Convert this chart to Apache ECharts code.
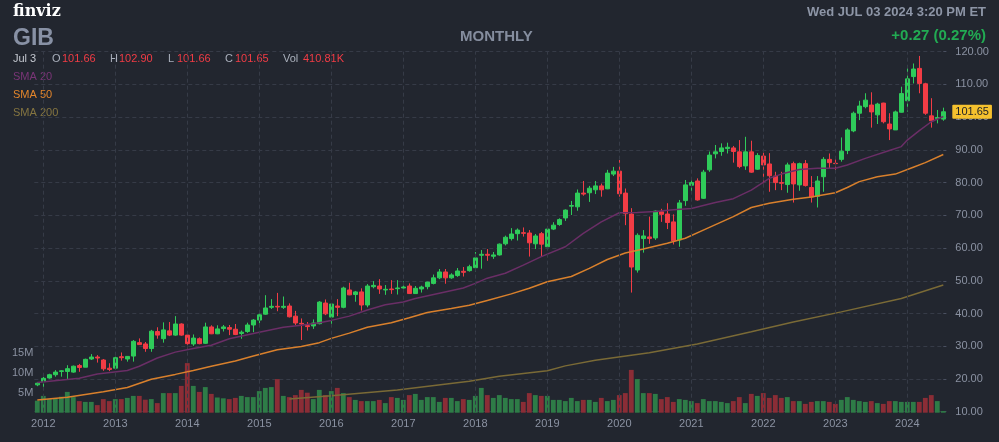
<!DOCTYPE html>
<html><head><meta charset="utf-8">
<script src="https://cdn.jsdelivr.net/npm/echarts@6/dist/echarts.min.js"></script>
<style>html,body{margin:0;padding:0;background:#22262f}#c{width:999px;height:442px}</style>
</head><body><div id="c"></div>
<script>
// ---- data (monthly, Dec 2011 .. Jul 2024) ----
const START_YEAR = 2011, START_MONTH = 12;
const OPEN = [18.2,19.2,20.3,21.3,22.3,22.3,22.1,24.1,23.6,26.1,26.7,25.8,23.3,23.3,26.8,26.1,27.0,31.1,30.7,29.3,34.5,32.3,34.7,33.4,36.8,
33.4,30.7,32.3,30.9,35.9,33.8,35.4,35.7,35.2,33.9,34.5,36.5,38.0,39.8,41.9,42.2,41.9,42.3,39.2,37.0,36.3,36.2,36.9,43.2,
38.9,42.3,41.9,47.2,45.8,46.6,42.6,48.2,48.4,47.2,47.5,47.6,47.8,48.4,46.1,47.5,48.2,49.2,50.9,52.7,50.9,51.6,52.9,53.1,
54.0,57.8,58.1,57.5,57.9,61.3,62.9,64.4,64.7,64.6,61.3,64.4,60.4,65.8,67.2,69.2,72.8,72.6,76.8,76.9,77.8,79.0,78.1,82.6,
83.5,76.8,70.4,53.3,62.9,63.4,63.1,71.1,70.4,68.0,62.5,74.5,79.2,80.5,75.2,83.9,88.8,89.5,90.4,90.6,89.4,85.1,89.4,84.1,
88.1,85.7,82.0,80.0,79.4,85.8,79.3,85.8,78.5,75.8,81.8,87.1,85.9,87.1,89.8,95.8,101.2,103.2,103.7,100.7,104.3,97.9,96.1,101.5,
105.0,112.4,114.9,110.2,100.4,99.6,99.4];
const HIGH = [19.0,20.6,21.6,22.7,22.7,24.2,24.1,24.6,26.2,27.6,27.3,26.1,24.8,26.8,28.1,27.0,31.9,32.4,31.3,35.0,35.8,37.3,37.4,39.2,37.0,
33.7,33.6,32.7,37.2,36.4,36.4,36.5,36.5,36.8,34.8,37.2,38.3,40.1,45.6,44.4,46.3,45.2,43.1,40.8,38.5,37.4,38.2,43.8,44.3,
43.1,44.4,48.2,49.4,46.9,47.7,49.0,49.9,50.5,48.7,50.2,50.2,49.9,49.2,48.4,48.5,49.7,51.9,53.6,53.6,52.3,53.9,54.2,54.9,
58.8,59.4,59.7,58.8,61.4,63.8,66.1,66.0,66.3,65.5,64.3,64.9,65.9,67.9,69.1,71.8,74.4,77.9,80.5,79.0,80.5,79.7,83.9,84.8,
86.9,78.2,72.2,64.5,65.5,69.6,71.5,72.0,73.7,70.3,74.7,80.8,80.8,81.3,83.9,89.5,91.5,92.0,92.2,91.2,93.0,94.0,92.8,89.0,
89.2,89.0,83.3,83.3,86.1,86.4,86.1,86.9,82.0,82.0,87.8,88.9,88.0,93.8,96.6,101.7,105.0,107.3,107.6,104.4,104.4,101.2,102.0,109.3,
115.7,116.4,118.7,110.5,105.8,102.2,102.9];
const LOW = [17.8,17.4,20.1,20.7,20.7,19.9,21.9,22.2,23.6,25.8,25.0,22.5,22.4,22.9,25.6,25.3,25.3,30.4,28.3,28.3,32.3,31.1,33.1,33.2,33.2,
29.3,30.1,30.6,30.7,33.7,33.7,34.5,33.4,33.4,32.3,34.1,34.3,37.0,39.6,41.4,40.7,41.4,38.8,36.5,31.9,34.8,35.3,36.7,39.5,
35.9,39.2,41.6,45.6,43.6,40.9,41.9,47.7,46.0,45.7,46.0,45.8,47.0,46.0,46.0,46.4,47.4,48.9,50.5,49.1,50.6,51.2,51.3,52.8,
52.8,53.7,56.1,56.7,57.7,60.8,62.3,62.3,63.5,57.4,59.7,57.3,59.7,65.5,66.8,68.3,70.1,71.4,76.0,74.1,76.5,75.7,78.0,82.0,
75.7,67.0,46.4,52.5,58.6,61.3,62.5,68.0,65.8,61.1,60.4,72.9,76.9,74.5,75.0,83.3,87.4,88.2,88.9,86.1,84.4,83.9,83.0,83.9,
79.8,77.2,77.7,77.7,76.9,73.9,77.5,78.8,73.9,72.4,77.2,84.3,83.4,86.4,88.7,95.4,99.1,102.7,96.8,97.9,98.1,93.0,96.1,101.4,
101.7,110.3,107.3,100.7,96.8,98.1,98.9];
const CLOSE = [18.7,20.2,21.3,22.1,22.5,23.15,23.9,23.5,26.0,26.7,26.4,23.1,22.9,26.5,26.5,26.9,31.5,30.5,29.3,34.6,33.4,35.0,33.4,36.8,33.4,
30.8,32.5,30.8,35.9,33.8,35.3,35.9,35.2,33.6,34.3,36.5,38.0,39.6,41.7,42.2,42.0,42.2,39.0,37.1,36.8,36.0,37.1,43.5,39.9,
42.9,41.9,47.8,45.7,46.6,42.6,48.4,48.6,47.5,47.4,47.3,47.8,48.1,46.1,47.7,48.1,49.6,50.9,52.7,50.9,51.8,53.0,52.6,54.3,
57.0,58.1,57.8,57.9,61.2,63.3,64.3,65.5,64.5,61.6,63.7,61.2,65.8,67.0,68.7,71.6,73.0,76.8,76.5,78.3,79.0,77.8,82.9,83.5,
76.6,70.5,54.2,63.9,63.7,62.9,71.3,70.3,67.8,62.2,73.8,79.3,80.0,74.7,83.2,88.4,89.4,90.6,90.8,89.5,84.9,89.4,83.2,88.3,
85.4,82.1,80.0,79.8,85.4,79.6,85.8,79.1,75.6,80.5,87.1,86.1,85.8,89.6,96.1,101.2,103.4,105.2,101.6,104.0,98.6,96.4,101.6,107.2,
111.7,114.7,110.3,101.2,98.9,99.9,101.65];
const VOLUME_M = [3.0,4.2,3.4,3.6,4.0,5.2,3.9,2.9,2.7,2.7,1.9,3.4,2.9,3.4,3.4,3.7,4.2,4.2,3.25,3.4,2.4,4.9,4.9,4.9,6.7,
12.4,6.7,5.2,6.4,4.7,3.8,3.6,3.4,3.7,4.2,3.9,3.9,5.4,6.2,6.4,8.4,4.2,3.9,4.4,5.7,5.0,3.4,5.7,4.4,
5.4,6.2,4.9,3.9,3.2,2.9,2.9,2.9,3.2,2.4,3.9,3.7,3.2,4.4,4.7,3.2,3.9,3.9,2.7,3.7,3.7,2.9,3.4,3.2,
4.2,6.2,4.4,3.7,4.4,3.7,3.4,3.4,2.7,4.9,4.4,4.2,4.2,3.2,3.2,2.9,3.7,2.9,3.2,3.2,2.7,3.7,2.9,3.2,
4.4,4.9,10.7,8.4,4.9,4.9,4.7,3.4,3.9,2.7,3.4,3.2,2.9,2.4,3.4,2.9,2.9,2.7,2.4,2.9,3.9,2.4,4.7,4.2,
4.9,3.7,4.4,3.7,3.9,2.9,2.9,2.2,2.7,2.9,2.9,2.7,2.2,3.2,3.9,3.2,2.9,2.7,2.9,2.4,2.2,2.9,2.9,2.7,
2.7,2.7,2.7,3.7,4.4,2.9,0.41];
// moving averages: [month index, value]
const SMA20 = [[0,18.9],[7,20.2],[10,21.5],[15,22.6],[17,23.9],[20,26.4],[23,28.2],[26,29.3],[29,30.3],[32,32.3],[37,34.3],[41,35.8],
[44,36.4],[47,37.2],[49,37.9],[52,39.2],[55,41.1],[58,42.7],[61,43.5],[63,44.6],[67,46.2],[71,47.8],[73,49.2],[75,50.8],[78,52.3],
[81,54.8],[84,57.4],[88,60.4],[91,64.5],[94,68.0],[97,70.8],[100,70.9],[103,71.2],[106,71.7],[109,72.1],[113,73.9],[116,75.1],
[119,77.7],[122,81.3],[124,82.6],[127,84.0],[130,84.4],[133,84.4],[135,85.4],[138,87.4],[142,89.8],[144,91.0],[145,93.0],
[147,95.9],[149,98.6],[151,100.2]];
const SMA50 = [[0,13.6],[5,14.4],[11,16.1],[15,17.4],[19,19.9],[23,21.4],[26,22.6],[29,23.9],[33,25.5],[36,27.0],[40,28.9],[44,29.9],
[47,31.1],[49,32.4],[52,34.0],[55,35.8],[59,37.2],[62,38.7],[65,40.3],[69,41.5],[72,42.5],[75,44.0],[79,46.0],[82,47.7],[85,49.7],
[89,51.3],[92,53.8],[95,56.5],[98,58.5],[101,59.7],[105,61.5],[108,63.0],[111,65.5],[116,69.6],[119,72.4],[122,73.7],[126,74.9],
[129,75.6],[133,76.9],[135,78.5],[137,80.3],[140,81.8],[143,82.6],[146,84.7],[148,86.1],[151,88.6]];
const SMA200 = [[42,13.9],[49,14.9],[60,16.6],[72,19.3],[77,20.8],[81,21.7],[85,22.5],[88,24.0],[93,25.7],[102,28.0],[110,30.7],
[119,34.4],[126,37.4],[134,40.5],[144,44.6],[151,48.7]];
const PRICE_TICKS = {min: 10, max: 120, step: 10};
const VOL_TICKS = {min: 0, max: 15, step: 5};
const HEADER = {ticker: 'GIB', date: 'Wed JUL 03 2024 3:20 PM ET', change: '+0.27 (0.27%)', day: 'Jul 3',
  o: '101.66', h: '102.90', l: '101.66', c: '101.65', vol: '410.81K', period: 'MONTHLY'};

// ---- build ----
const MONTHS = [];
for (let k = 0; k < CLOSE.length; k++) {
  const t = START_MONTH - 1 + k;
  MONTHS.push((START_YEAR + Math.floor(t / 12)) + '-' + String(t % 12 + 1).padStart(2, '0'));
}
const UP = '#2fcb5a', DOWN = '#f23c45', VUP = '#2e7c47', VDOWN = '#8b2d36';
const candles = MONTHS.map((m, i) => [OPEN[i], CLOSE[i], LOW[i], HIGH[i]]);
const vols = MONTHS.map((m, i) => ({value: VOLUME_M[i] * 1e6, itemStyle: {color: CLOSE[i] >= OPEN[i] ? VUP : VDOWN}}));
const yearStarts = MONTHS.filter(m => m.endsWith('-01'));
const lastClose = CLOSE[CLOSE.length - 1];
const FONT = '"Liberation Sans", Arial, sans-serif';
const GRID_LINE = '#363b47', AX = '#8b92a2';

const L = 34.3, R = 52.7;
const chart = echarts.init(document.getElementById('c'), null, {renderer: 'canvas'});
const txt = (x, y, s, fill, font, extra) => Object.assign({type: 'text', left: x, top: y, silent: true,
  style: {text: s, fill: fill, font: font}}, extra || {});
chart.setOption({
  animation: false,
  backgroundColor: '#22262f',
  textStyle: {fontFamily: FONT},
  grid: [
    {left: L, right: R, top: 51.7, height: 360},
    {left: L, right: R, top: 352.7, height: 60}
  ],
  xAxis: [
    {type: 'category', data: MONTHS, gridIndex: 0, boundaryGap: true, axisLine: {show: false}, axisTick: {show: false},
     axisLabel: {show: false}, splitLine: {show: false}},
    {type: 'category', data: MONTHS, gridIndex: 1, boundaryGap: true, axisLine: {show: false}, axisTick: {show: false},
     splitLine: {show: false},
     axisLabel: {color: AX, fontSize: 11, margin: 6, fontFamily: FONT,
       interval: (idx, val) => val.endsWith('-01'), formatter: v => v.slice(0, 4)}}
  ],
  yAxis: [
    {type: 'value', gridIndex: 0, position: 'right', min: PRICE_TICKS.min, max: PRICE_TICKS.max, interval: PRICE_TICKS.step,
     axisLine: {show: false}, axisTick: {show: true, inside: true, length: 3, lineStyle: {color: '#4a5060'}},
     axisLabel: {color: AX, fontSize: 11, margin: 9, fontFamily: FONT, formatter: v => v.toFixed(2)},
     splitLine: {show: true, lineStyle: {color: GRID_LINE, type: [4, 3], width: 1}}},
    {type: 'value', gridIndex: 1, position: 'left', min: VOL_TICKS.min * 1e6, max: VOL_TICKS.max * 1e6, interval: VOL_TICKS.step * 1e6,
     axisLine: {show: false}, axisTick: {show: false}, splitLine: {show: false},
     axisLabel: {color: AX, fontSize: 11, margin: 1, fontFamily: FONT, showMinLabel: false,
       formatter: v => v === 0 ? '' : (v / 1e6) + 'M'}}
  ],
  series: [
    {type: 'line', xAxisIndex: 0, yAxisIndex: 0, data: [], z: 0, silent: true,
     markLine: {silent: true, symbol: 'none', label: {show: false},
       lineStyle: {color: GRID_LINE, type: [4, 3], width: 1},
       data: yearStarts.map(m => ({xAxis: m}))}},
    {type: 'bar', xAxisIndex: 1, yAxisIndex: 1, data: vols, barWidth: 4.8, z: 1, silent: true},
    {type: 'candlestick', xAxisIndex: 0, yAxisIndex: 0, data: candles, barWidth: 4, z: 3,
     itemStyle: {color: UP, color0: DOWN, borderColor: UP, borderColor0: DOWN, borderWidth: 1}},
    {type: 'line', xAxisIndex: 0, yAxisIndex: 0, data: SMA20, symbol: 'none', z: 4, silent: true,
     lineStyle: {color: '#6a2e66', width: 1.5}},
    {type: 'line', xAxisIndex: 0, yAxisIndex: 0, data: SMA50, symbol: 'none', z: 4, silent: true,
     lineStyle: {color: '#d9802c', width: 1.5}},
    {type: 'line', xAxisIndex: 0, yAxisIndex: 0, data: SMA200, symbol: 'none', z: 4, silent: true,
     lineStyle: {color: '#7a6a36', width: 1.5}},
    {type: 'line', xAxisIndex: 0, yAxisIndex: 0, data: [], z: 10, silent: true,
     markLine: {silent: true, symbol: 'none', lineStyle: {color: 'rgba(0,0,0,0)', width: 0},
       label: {show: true, position: 'end', distance: 6, formatter: lastClose.toFixed(2),
         backgroundColor: '#f5c12e', color: '#1c1f27', fontSize: 11, fontFamily: FONT, padding: [2, 3, 1, 3], borderRadius: 1},
       data: [{yAxis: lastClose}]}}
  ],
  graphic: [
    txt(13, 4, 'finviz', '#ffffff', 'bold 16px "DejaVu Serif", serif'),
    txt(13, 27, HEADER.ticker, '#8891a5', 'bold 23px ' + FONT),
    txt(460, 29, HEADER.period, '#858d9e', 'bold 15px ' + FONT),
    txt(null, 6, HEADER.date, '#8d95a6', 'bold 13px ' + FONT, {right: 13, left: undefined}),
    txt(null, 28, HEADER.change, '#22ab53', 'bold 15px ' + FONT, {right: 13, left: undefined}),
    txt(13, 53, HEADER.day, '#c4c8d0', '11px ' + FONT),
    txt(52, 53, 'O', '#aab0bc', '11px ' + FONT),
    txt(62, 53, HEADER.o, DOWN, '11px ' + FONT),
    txt(110, 53, 'H', '#aab0bc', '11px ' + FONT),
    txt(119, 53, HEADER.h, DOWN, '11px ' + FONT),
    txt(168, 53, 'L', '#aab0bc', '11px ' + FONT),
    txt(177, 53, HEADER.l, DOWN, '11px ' + FONT),
    txt(225, 53, 'C', '#aab0bc', '11px ' + FONT),
    txt(235, 53, HEADER.c, DOWN, '11px ' + FONT),
    txt(283, 53, 'Vol', '#aab0bc', '11px ' + FONT),
    txt(303, 53, HEADER.vol, DOWN, '11px ' + FONT),
    txt(13, 71, 'SMA 20', '#7a3577', '11px ' + FONT),
    txt(13, 89, 'SMA 50', '#e2852c', '11px ' + FONT),
    txt(13, 107, 'SMA 200', '#857540', '11px ' + FONT)
  ]
});
</script></body></html>
